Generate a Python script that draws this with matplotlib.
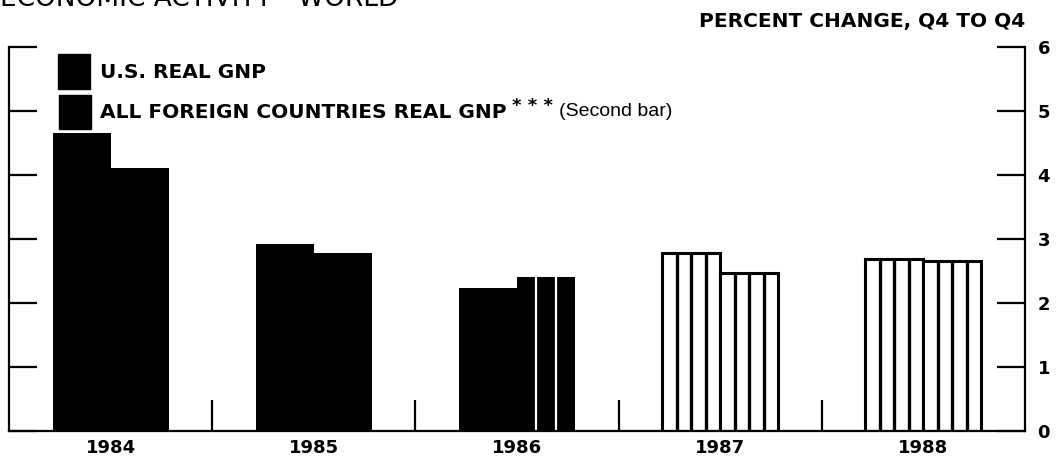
import matplotlib
matplotlib.use("Agg")
import matplotlib.pyplot as plt
from matplotlib.patches import Rectangle
import numpy as np

# ---- data ----
years = ["1984", "1985", "1986", "1987", "1988"]
us_gnp = [4.66, 2.92, 2.23, 2.78, 2.69]
foreign_gnp = [4.11, 2.78, 2.41, 2.47, 2.66]
# bar styles: 'solid' actual, 'mixed' partly projected, 'striped' projected
us_style = ["solid", "solid", "solid", "striped", "striped"]
foreign_style = ["solid", "solid", "mixed", "striped", "striped"]
yticks = [0, 1, 2, 3, 4, 5, 6]

title = "ECONOMIC ACTIVITY - WORLD"
unit_label = "PERCENT CHANGE, Q4 TO Q4"
legend_labels = ["U.S. REAL GNP", "ALL FOREIGN COUNTRIES REAL GNP"]

W, H = 1057, 462
fig = plt.figure(figsize=(W / 100, H / 100), dpi=100)
ax = fig.add_axes([9 / W, 31 / H, (1025 - 9) / W, (431 - 47) / H])

BOLD = "DejaVu Sans"
x = np.arange(len(years))
w = 0.285


def draw_bar(xl, h, style):
    if style == "solid":
        ax.bar(xl, h, width=w, align="edge", color="black", edgecolor="black", lw=0)
    elif style == "mixed":
        ax.bar(xl, h, width=w, align="edge", color="black", edgecolor="black", lw=0)
        ax.vlines([xl + w / 3, xl + 2 * w / 3], 0, h, colors="white", lw=1.6)
    else:
        ax.bar(xl, h, width=w, align="edge", color="white", edgecolor="black", lw=2.2)
        ax.vlines([xl + w * k / 4 for k in (1, 2, 3)], 0, h, colors="black", lw=2.4)


for i in range(len(years)):
    draw_bar(x[i] - w, us_gnp[i], us_style[i])
    draw_bar(x[i], foreign_gnp[i], foreign_style[i])

ax.set_xlim(-0.5, 4.5)
ax.set_ylim(0, 6)

for s in ["left", "right", "bottom"]:
    ax.spines[s].set_linewidth(1.6)
ax.spines["top"].set_visible(False)

ax.set_yticks(yticks)
ax.tick_params(axis="y", which="both", direction="in", length=20, width=1.6,
               left=True, right=True, labelleft=False, labelright=True, pad=9)
for lab in ax.get_yticklabels():
    lab.set_fontfamily(BOLD)
    lab.set_fontweight("bold")
    lab.set_fontsize(13)

ax.set_xticks(x)
ax.set_xticklabels(years, fontfamily=BOLD, fontweight="bold", fontsize=13)
ax.set_xticks(x[:-1] + 0.5, minor=True)
ax.tick_params(axis="x", which="major", length=0, pad=6)
ax.tick_params(axis="x", which="minor", direction="in", length=22, width=1.6)

# titles
fig.text(0, 1 - 6 / H, title, fontsize=19, fontfamily="DejaVu Sans",
         ha="left", va="baseline")
fig.text(1025 / W, 1 - 22 / H, unit_label, fontsize=14.5, fontfamily=BOLD,
         fontweight="bold", ha="right", va="center")

# legend
fig.add_artist(Rectangle((58 / W, 1 - 89 / H), 32 / W, 35 / H,
                         transform=fig.transFigure, color="black"))
fig.add_artist(Rectangle((59 / W, 1 - 129 / H), 32 / W, 34 / H,
                         transform=fig.transFigure, color="black"))
fig.text(100 / W, 1 - 72 / H, legend_labels[0], fontsize=14.5, fontfamily=BOLD,
         fontweight="bold", ha="left", va="center")
t2 = fig.text(100 / W, 1 - 112 / H, legend_labels[1], fontsize=14.5,
              fontfamily=BOLD, fontweight="bold", ha="left", va="center")
ann1 = ax.annotate("* * *", xy=(1, 0.5), xycoords=t2, xytext=(4, 4),
                   textcoords="offset points", fontsize=13, fontfamily=BOLD,
                   fontweight="bold", ha="left", va="center")
ax.annotate("(Second bar)", xy=(1, 0.5), xycoords=ann1, xytext=(4, -4),
            textcoords="offset points", fontsize=14,
            fontfamily="Liberation Sans", ha="left", va="center")

fig.savefig("out.png", dpi=100)
